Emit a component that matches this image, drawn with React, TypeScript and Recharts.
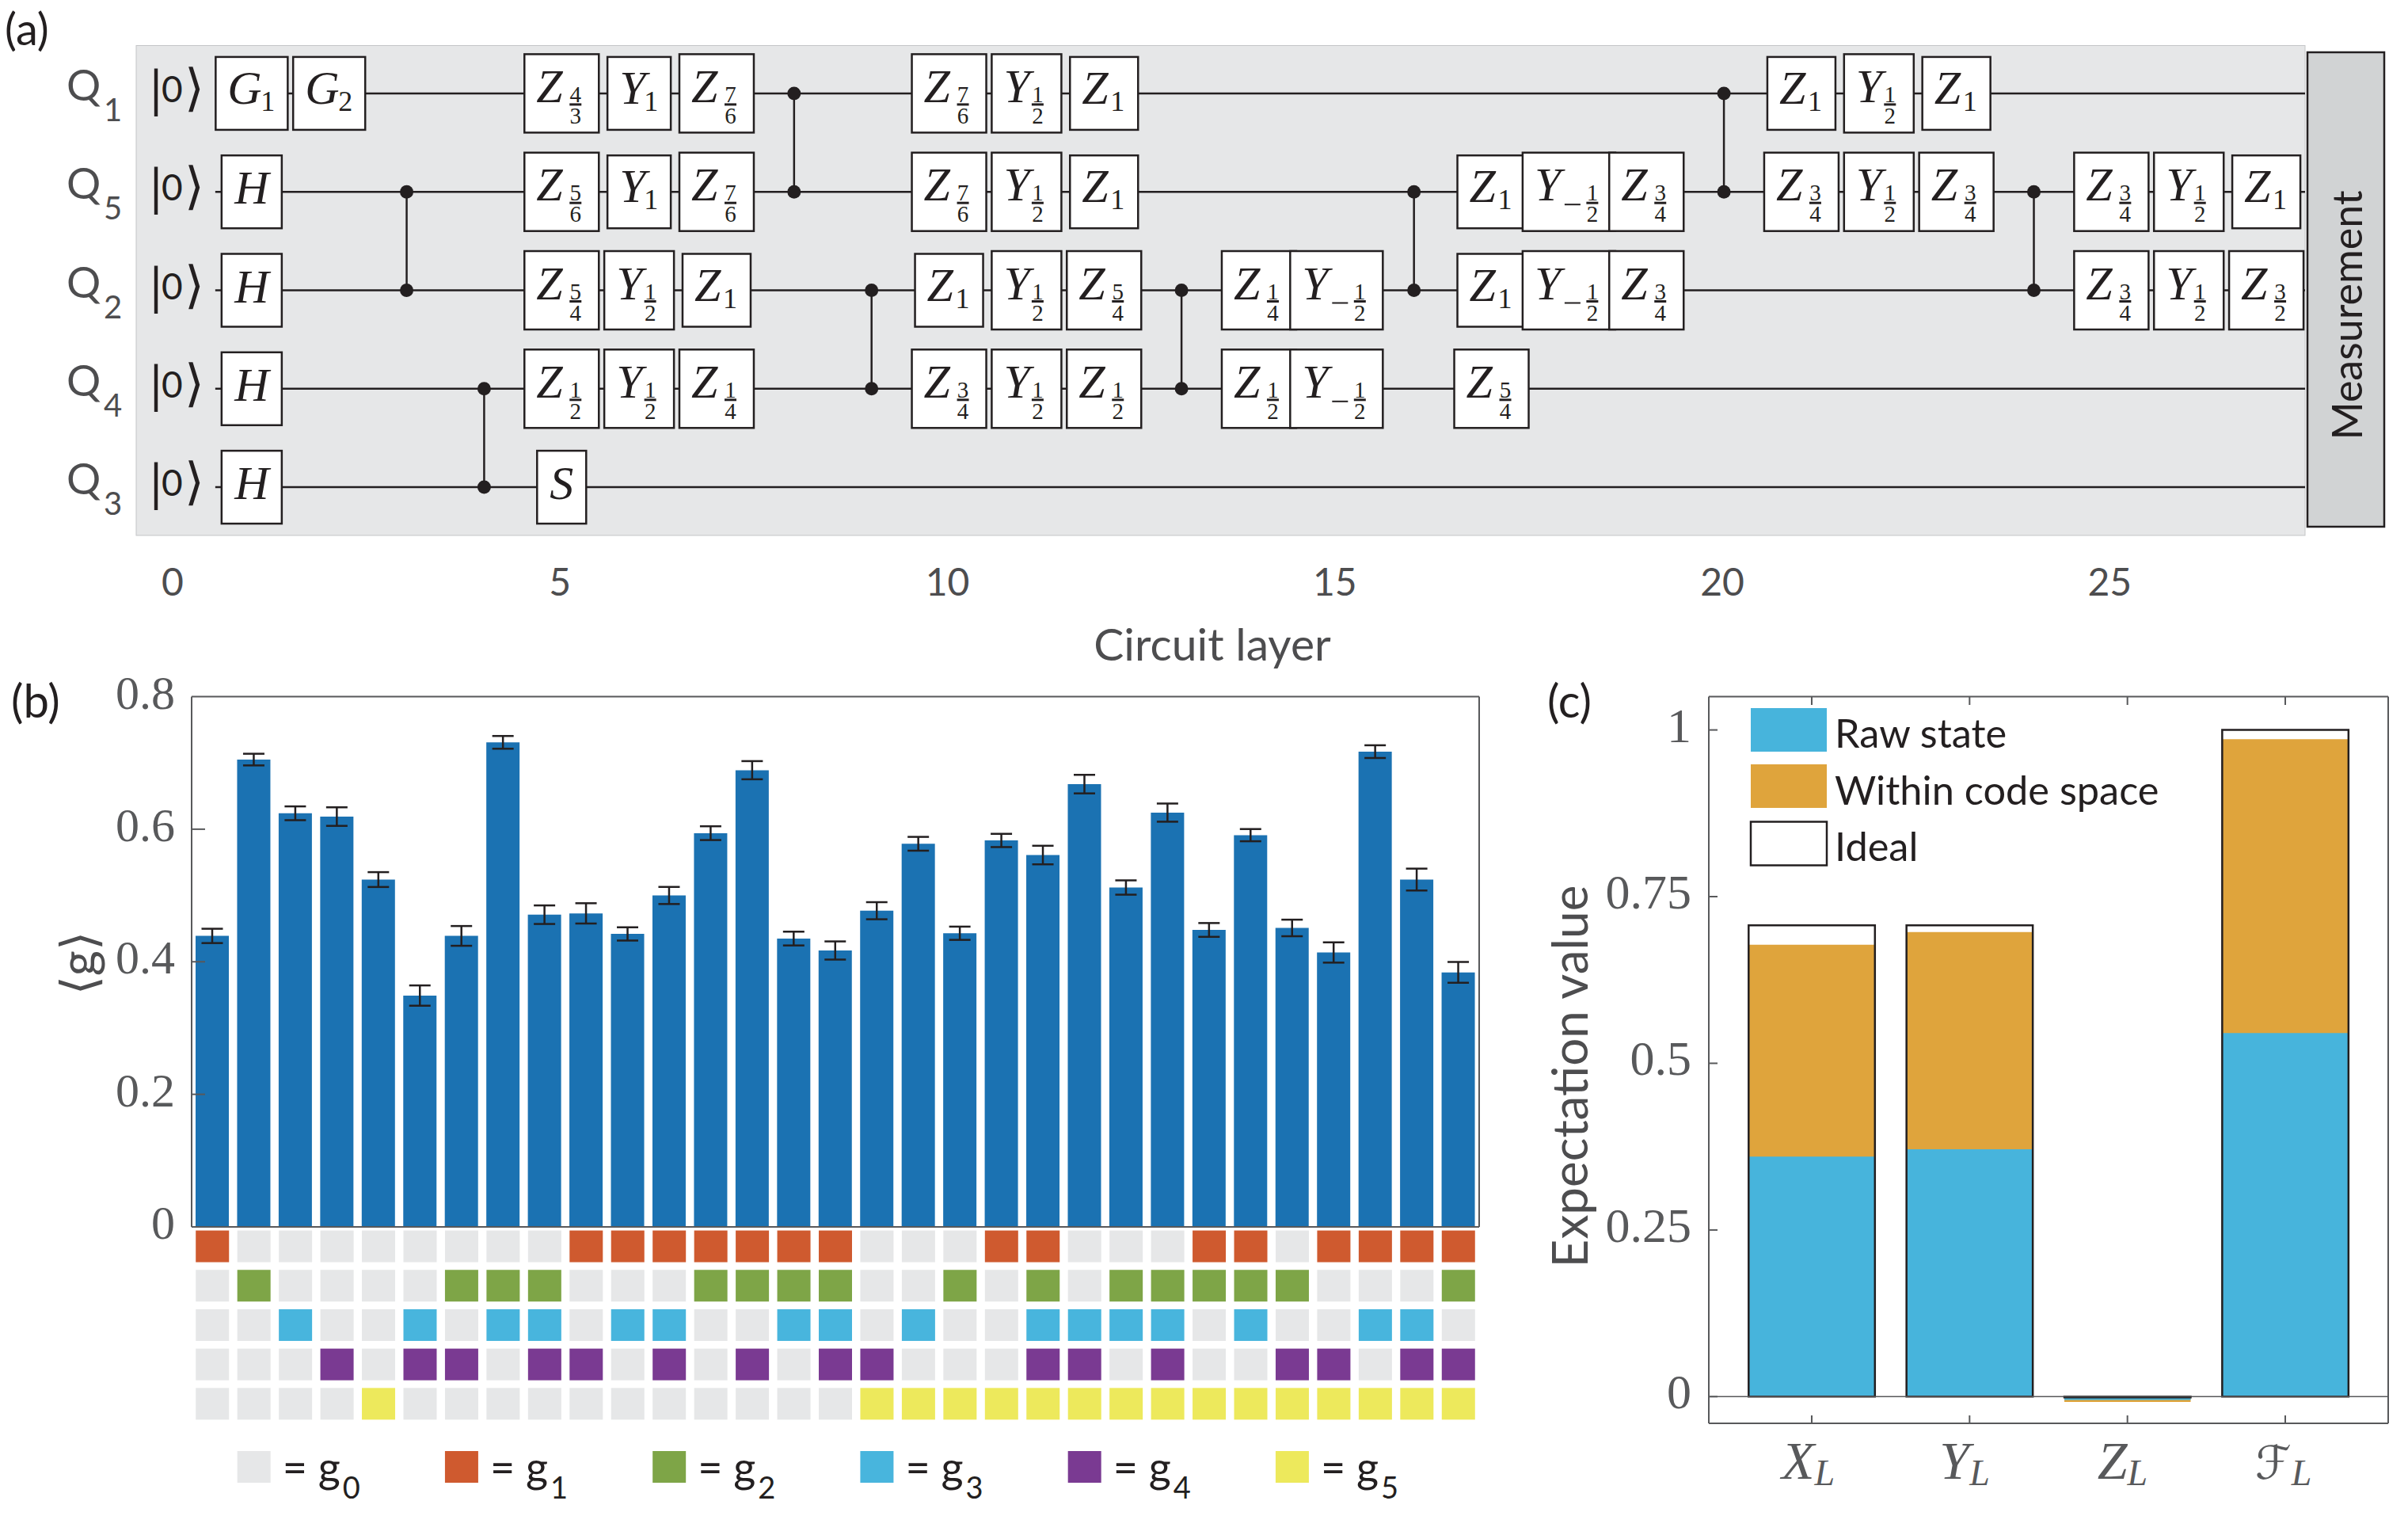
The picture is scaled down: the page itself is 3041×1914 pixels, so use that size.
import React from "react";
import {
  Bar,
  BarChart,
  ErrorBar,
  ReferenceLine,
  Scatter,
  ScatterChart,
  XAxis,
  YAxis,
} from "recharts";

const W = 3041;
const H = 1914;
const SANS = "Lato, 'Open Sans', sans-serif";
const SERIF = "'Liberation Serif', serif";
const INK = "#231f20";
const AXIS = "#58595b";

// panel (a)
const qubitLabels = ["1", "5", "2", "4", "3"];
const layerTicks = [0, 5, 10, 15, 20, 25];
const q1Gates = [[1, "G", "1"], [2, "G", "2"], [5, "Z", "4/3"], [6, "Y", "1"], [7, "Z", "7/6"], [10, "Z", "7/6"], [11, "Y", "1/2"], [12, "Z", "1"], [21, "Z", "1"], [22, "Y", "1/2"], [23, "Z", "1"]];
const q5Gates = [[1, "H", ""], [5, "Z", "5/6"], [6, "Y", "1"], [7, "Z", "7/6"], [10, "Z", "7/6"], [11, "Y", "1/2"], [12, "Z", "1"], [17, "Z", "1"], [18, "Y", "-1/2"], [19, "Z", "3/4"], [21, "Z", "3/4"], [22, "Y", "1/2"], [23, "Z", "3/4"], [25, "Z", "3/4"], [26, "Y", "1/2"], [27, "Z", "1"]];
const q2Gates = [[1, "H", ""], [5, "Z", "5/4"], [6, "Y", "1/2"], [7, "Z", "1"], [10, "Z", "1"], [11, "Y", "1/2"], [12, "Z", "5/4"], [14, "Z", "1/4"], [15, "Y", "-1/2"], [17, "Z", "1"], [18, "Y", "-1/2"], [19, "Z", "3/4"], [25, "Z", "3/4"], [26, "Y", "1/2"], [27, "Z", "3/2"]];
const q4Gates = [[1, "H", ""], [5, "Z", "1/2"], [6, "Y", "1/2"], [7, "Z", "1/4"], [10, "Z", "3/4"], [11, "Y", "1/2"], [12, "Z", "1/2"], [14, "Z", "1/2"], [15, "Y", "-1/2"], [17, "Z", "5/4"]];
const q3Gates = [[1, "H", ""], [5, "S", ""]];
const czPairs = [[3, 1, 2], [4, 3, 4], [8, 0, 1], [9, 2, 3], [13, 2, 3], [16, 1, 2], [20, 0, 1], [24, 1, 2]];

// panel (b)
const gValues = [0.439, 0.705, 0.624, 0.619, 0.524, 0.349, 0.439, 0.731, 0.471, 0.473, 0.442, 0.5, 0.594, 0.689, 0.435, 0.417, 0.477, 0.578, 0.443, 0.583, 0.561, 0.668, 0.512, 0.625, 0.448, 0.591, 0.451, 0.414, 0.717, 0.524, 0.384];
const gErrors = [0.0108, 0.0088, 0.0104, 0.014, 0.0112, 0.0153, 0.0149, 0.0096, 0.014, 0.0153, 0.01, 0.0129, 0.0104, 0.0137, 0.0104, 0.0137, 0.0129, 0.0104, 0.01, 0.01, 0.014, 0.014, 0.0108, 0.0137, 0.0104, 0.0092, 0.0125, 0.0153, 0.0096, 0.0165, 0.0157];
const g1Cols = [1, 10, 11, 12, 13, 14, 15, 16, 20, 21, 25, 26, 28, 29, 30, 31];
const g2Cols = [2, 7, 8, 9, 13, 14, 15, 16, 19, 21, 23, 24, 25, 26, 27, 31];
const g3Cols = [3, 6, 8, 9, 11, 12, 15, 16, 18, 21, 22, 23, 24, 26, 29, 30];
const g4Cols = [4, 6, 7, 9, 10, 12, 14, 16, 17, 21, 22, 24, 27, 28, 30, 31];
const g5Cols = [5, 17, 18, 19, 20, 21, 22, 23, 24, 25, 26, 27, 28, 29, 30, 31];
const gColors = ["#e6e7e8", "#cf5a2f", "#7ea547", "#48b5dd", "#7a3a92", "#ede95c"];
const gTicks = [0, 0.2, 0.4, 0.6, 0.8];
const legendCols = [2, 7, 12, 17, 22, 27];

// panel (c)
const logicalNames = ["X", "Y", "Z", "ℱ"];
const rawState = [0.36, 0.371, -0.005, 0.5455];
const withinCode = [0.678, 0.697, -0.008, 0.986];
const idealValue = [0.707, 0.707, -0.001, 1];
const expTicks = [0, 0.25, 0.5, 0.75, 1];

const gTable = gValues.map((v, i) => ({ idx: i + 1, value: v, err: gErrors[i] }));
const gCells: { x: number; y: number; g: number }[] = [];
[g1Cols, g2Cols, g3Cols, g4Cols, g5Cols].forEach((cols, row) => {
  gValues.forEach((_, i) => {
    gCells.push({ x: i + 1, y: row, g: cols.includes(i + 1) ? row + 1 : 0 });
  });
});
const expTable = logicalNames.map((name, i) => ({
  name,
  raw: rawState[i],
  within: withinCode[i],
  ideal: idealValue[i],
}));
const toGates = (list: any[], y: number) =>
  list.map(([x, base, sub]) => ({ x, y, base, sub }));

function gateWidth(base: string, sub: string) {
  if (base === "H") return 76;
  if (base === "S") return 62;
  if (base === "G") return 91;
  if (sub.startsWith("-")) return 117;
  if (base === "Y") return sub.includes("/") ? 88 : 80;
  return sub.includes("/") ? 94 : 86;
}

function Frac({ x, cy, text }: { x: number; cy: number; text: string }) {
  const [n, d] = text.split("/");
  const style = { fontFamily: SERIF, fontSize: 29, fill: INK, textAnchor: "middle" as const };
  return (
    <g>
      <text x={x} y={cy + 11} style={style}>{n}</text>
      <line x1={x - 7.5} x2={x + 7.5} y1={cy + 14} y2={cy + 14} stroke={INK} strokeWidth={3} />
      <text x={x} y={cy + 38} style={style}>{d}</text>
    </g>
  );
}

function GateShape(props: any) {
  const { cx, cy, payload } = props;
  const { base, sub } = payload;
  const w = gateWidth(base, sub);
  const isFrac = sub.includes("/");
  const h = isFrac ? 99 : 92;
  const left = cx - w / 2;
  const label = { fontFamily: SERIF, fontStyle: "italic", fontSize: 60, fill: INK };
  let subNode = null;
  if (sub.startsWith("-")) {
    subNode = (
      <g>
        <line x1={left + 53} x2={left + 73} y1={cy + 16} y2={cy + 16} stroke={INK} strokeWidth={2} />
        <Frac x={left + 88} cy={cy} text={sub.slice(1)} />
      </g>
    );
  } else if (isFrac) {
    subNode = <Frac x={left + (base === "Y" ? 58 : 64.5)} cy={cy} text={sub} />;
  } else if (sub) {
    const sx = base === "G" ? 66 : base === "Y" ? 55 : 60;
    subNode = (
      <text x={left + sx} y={cy + 22} style={{ fontFamily: SERIF, fontSize: 36, fill: INK, textAnchor: "middle" }}>
        {sub}
      </text>
    );
  }
  return (
    <g>
      <rect x={left} y={cy - h / 2} width={w} height={h} fill="#fff" stroke={INK} strokeWidth={2.5} />
      {sub ? (
        <text x={left + 15} y={cy + (isFrac ? 11 : 13)} style={label}>{base}</text>
      ) : (
        <text x={cx} y={cy + 15} style={{ ...label, textAnchor: "middle" }}>{base}</text>
      )}
      {subNode}
    </g>
  );
}

const NoShape = () => <g />;
const CzDot = (props: any) => <circle cx={props.cx} cy={props.cy} r={8.5} fill={INK} />;

function QubitTick(props: any) {
  const { y, payload } = props;
  const cy = y;
  return (
    <g>
      <text x={84} y={cy + 9} style={{ fontFamily: SANS, fontSize: 54, fill: "#4d4d4f" }}>Q</text>
      <text x={131} y={cy + 35} style={{ fontFamily: SANS, fontSize: 40, fill: "#4d4d4f" }}>
        {qubitLabels[payload.value]}
      </text>
      <text style={{ fontFamily: SANS, fontSize: 46, fill: INK }}>
        <tspan x={189} y={cy + 18} style={{ fontSize: 64 }}>|</tspan>
        <tspan x={204} y={cy + 11}>0</tspan>
        <tspan x={233} y={cy + 15} style={{ fontFamily: "'DejaVu Sans'", fontSize: 64 }}>⟩</tspan>
      </text>
    </g>
  );
}

function LayerTick(props: any) {
  return (
    <text x={props.x - 2} y={752} style={{ fontFamily: SANS, fontSize: 48, fill: "#4d4d4f", textAnchor: "middle" }}>
      {props.payload.value}
    </text>
  );
}

function GLeftTick(props: any) {
  const { y, payload } = props;
  return (
    <g>
      {payload.value > 0 && payload.value < 0.8 && <line x1={242} x2={259} y1={y} y2={y} stroke={AXIS} strokeWidth={2} />}
      <text x={221} y={y + 15} style={{ fontFamily: SERIF, fontSize: 60, fill: AXIS, textAnchor: "end" }}>
        {payload.value}
      </text>
    </g>
  );
}

function GRightTick(props: any) {
  return <line x1={1851} x2={1868} y1={props.y} y2={props.y} stroke={AXIS} strokeWidth={2} />;
}

function CellShape(props: any) {
  return <rect x={props.cx - 21} y={props.cy - 20} width={42} height={40} fill={gColors[props.payload.g]} />;
}

function ExpLeftTick(props: any) {
  const { y, payload } = props;
  return (
    <g>
      <line x1={2158} x2={2169} y1={y} y2={y} stroke={AXIS} strokeWidth={2} />
      <text x={2136} y={y + 15} style={{ fontFamily: SERIF, fontSize: 62, fill: AXIS, textAnchor: "end" }}>
        {payload.value}
      </text>
    </g>
  );
}

function ExpRightTick(props: any) {
  return <line x1={3005} x2={3016} y1={props.y} y2={props.y} stroke={AXIS} strokeWidth={2} />;
}

function ExpBottomTick(props: any) {
  const { x, payload } = props;
  const script = payload.value === "ℱ";
  return (
    <g>
      <line x1={x} x2={x} y1={1787} y2={1797} stroke={AXIS} strokeWidth={2} />
      <text
        x={x - 38}
        y={1867}
        style={{
          fontFamily: script ? "'DejaVu Sans'" : SERIF,
          fontStyle: script ? "normal" : "italic",
          fontSize: script ? 58 : 68,
          fill: AXIS,
        }}
      >
        {payload.value}
        <tspan dy={8} style={{ fontFamily: SERIF, fontStyle: "italic", fontSize: 46 }}>L</tspan>
      </text>
    </g>
  );
}

function ExpTopTick(props: any) {
  return <line x1={props.x} x2={props.x} y1={880} y2={890} stroke={AXIS} strokeWidth={2} />;
}

const layer = { position: "absolute", left: 0, top: 0 } as const;

export default function App() {
  const gatesByWire = [q1Gates, q5Gates, q2Gates, q4Gates, q3Gates];
  const panelLabel = { fontFamily: SANS, fontSize: 56, fill: INK };
  const legendText = { fontFamily: SANS, fontSize: 50.5, fill: INK };

  return (
    <div style={{ position: "absolute", left: 0, top: 0, width: W, height: H, background: "#fff", overflow: "hidden" }}>
      <svg width={W} height={H} style={layer}>
        <rect x={172} y={57.5} width={2739} height={618.5} fill="#e6e7e8" stroke="#c4c5c7" strokeWidth={1} />
        <rect x={2914} y={66} width={97} height={599} fill="#d1d3d4" stroke={INK} strokeWidth={2.5} />
      </svg>

      {/* (a) circuit */}
      <div style={layer}>
        <ScatterChart width={W} height={H} margin={{ left: 171, top: 57.5, right: W - 2911, bottom: H - 677 }}>
          <XAxis type="number" dataKey="x" domain={[-0.4905, 27.5]} ticks={layerTicks} height={1} axisLine={false} tickLine={false} tickSize={0} tick={LayerTick} interval={0} />
          <YAxis type="number" dataKey="y" domain={[-0.486, 4.49]} reversed ticks={[0, 1, 2, 3, 4]} width={1} axisLine={false} tickLine={false} tickSize={0} tick={QubitTick} interval={0} />
          {qubitLabels.map((q, i) => (
            <Scatter
              key={q}
              data={[{ x: 0.53, y: i }, { x: 27.5, y: i }]}
              line={{ stroke: INK, strokeWidth: 2.5 }}
              shape={NoShape}
              isAnimationActive={false}
            />
          ))}
          {czPairs.map(([x, a, b]) => (
            <Scatter
              key={x}
              data={[{ x, y: a }, { x, y: b }]}
              line={{ stroke: INK, strokeWidth: 2.5 }}
              shape={CzDot}
              isAnimationActive={false}
            />
          ))}
          {gatesByWire.map((list, i) => (
            <Scatter key={i} data={toGates(list, i)} shape={GateShape} isAnimationActive={false} />
          ))}
        </ScatterChart>
      </div>

      {/* (b) bars */}
      <div style={layer}>
        <BarChart width={W} height={H} data={gTable} barSize={42} margin={{ left: 241, top: 878.5, right: W - 1869, bottom: H - 1550 }}>
          <XAxis xAxisId="bottom" dataKey="idx" tick={false} tickLine={false} height={1} stroke={AXIS} strokeWidth={2} />
          <XAxis xAxisId="top" orientation="top" dataKey="idx" tick={false} tickLine={false} height={1} stroke={AXIS} strokeWidth={2} />
          <YAxis yAxisId="left" domain={[0, 0.8]} ticks={gTicks} width={1} stroke={AXIS} strokeWidth={2} tickLine={false} tickSize={0} tick={GLeftTick} interval={0} />
          <YAxis yAxisId="right" orientation="right" domain={[0, 0.8]} ticks={gTicks} width={1} stroke={AXIS} strokeWidth={2} tickLine={false} tickSize={0} tick={GRightTick} interval={0} />
          <Bar xAxisId="bottom" yAxisId="left" dataKey="value" fill="#1b72b2" isAnimationActive={false}>
            <ErrorBar dataKey="err" width={13.5} stroke={INK} strokeWidth={2.5} isAnimationActive={false} />
          </Bar>
        </BarChart>
      </div>

      {/* (b) generator grid */}
      <div style={layer}>
        <ScatterChart width={W} height={H} margin={{ left: 242, top: 1548.7, right: W - 1868, bottom: H - 1797.2 }}>
          <XAxis type="number" dataKey="x" domain={[0.5, 31.5]} hide />
          <YAxis type="number" dataKey="y" domain={[-0.5, 4.5]} reversed hide />
          <Scatter data={gCells} shape={CellShape} isAnimationActive={false} />
        </ScatterChart>
      </div>

      {/* (c) expectation values */}
      <div style={layer}>
        <BarChart width={W} height={H} data={expTable} barSize={159.5} barGap={-159.5} margin={{ left: 2157, top: 878.5, right: W - 3017, bottom: H - 1798 }}>
          <XAxis xAxisId="bottom" dataKey="name" padding={{ left: 30.3, right: 30.3 }} height={1} stroke={AXIS} strokeWidth={2} tickLine={false} tickSize={0} tick={ExpBottomTick} interval={0} />
          <XAxis xAxisId="top" orientation="top" dataKey="name" padding={{ left: 30.3, right: 30.3 }} height={1} stroke={AXIS} strokeWidth={2} tickLine={false} tickSize={0} tick={ExpTopTick} interval={0} />
          <YAxis yAxisId="left" domain={[-0.04, 1.05]} ticks={expTicks} width={1} stroke={AXIS} strokeWidth={2} tickLine={false} tickSize={0} tick={ExpLeftTick} interval={0} />
          <YAxis yAxisId="right" orientation="right" domain={[-0.04, 1.05]} ticks={expTicks} width={1} stroke={AXIS} strokeWidth={2} tickLine={false} tickSize={0} tick={ExpRightTick} interval={0} />
          <ReferenceLine xAxisId="bottom" yAxisId="left" y={0} stroke={AXIS} strokeWidth={1.5} />
          <Bar xAxisId="bottom" yAxisId="left" dataKey="within" fill="#dfa43c" isAnimationActive={false} />
          <Bar xAxisId="bottom" yAxisId="left" dataKey="raw" fill="#47b4dc" isAnimationActive={false} />
          <Bar xAxisId="bottom" yAxisId="left" dataKey="ideal" fill="none" stroke={INK} strokeWidth={2.5} isAnimationActive={false} />
        </BarChart>
      </div>

      {/* text and legends */}
      <svg width={W} height={H} style={layer}>
        <text x={6} y={57} style={panelLabel}>(a)</text>
        <text x={14} y={906} style={{ ...panelLabel, fontSize: 58 }}>(b)</text>
        <text x={1954} y={906} style={{ ...panelLabel, fontSize: 58 }}>(c)</text>
        <text x={1531} y={834} style={{ fontFamily: SANS, fontSize: 57, fill: "#4d4d4f", textAnchor: "middle" }}>Circuit layer</text>
        <text transform="translate(2983 398) rotate(-90)" style={{ fontFamily: SANS, fontSize: 52, fill: INK, textAnchor: "middle" }}>Measurement</text>
        <text transform="translate(2005 1359) rotate(-90)" style={{ fontFamily: SANS, fontSize: 62, fill: "#4d4d4f", textAnchor: "middle" }}>Expectation value</text>
        <text transform="translate(121 1216) rotate(-90)" style={{ fontFamily: SANS, fontSize: 62, fill: "#4d4d4f", textAnchor: "middle" }}>
          <tspan style={{ fontFamily: "'DejaVu Sans'", fontSize: 62 }}>⟨</tspan>g<tspan style={{ fontFamily: "'DejaVu Sans'", fontSize: 62 }}>⟩</tspan>
        </text>

        {legendCols.map((col, i) => {
          const x = 242 + (col - 0.5) * 52.45 - 21;
          return (
            <g key={col}>
              <rect x={x} y={1832} width={42} height={40} fill={gColors[i]} />
              <text x={x + 57} y={1872} style={{ fontFamily: SANS, fontSize: 54, fill: INK }}>= g</text>
              <text x={x + 133} y={1892} style={{ fontFamily: SANS, fontSize: 38, fill: INK }}>{i}</text>
            </g>
          );
        })}

        <rect x={2211} y={894} width={96} height={55} fill="#47b4dc" />
        <text x={2317} y={944} style={legendText}>Raw state</text>
        <rect x={2211} y={965} width={96} height={55} fill="#dfa43c" />
        <text x={2317} y={1016} style={legendText}>Within code space</text>
        <rect x={2211} y={1037.5} width={96} height={55} fill="#fff" stroke={INK} strokeWidth={2.5} />
        <text x={2317} y={1087} style={legendText}>Ideal</text>
      </svg>
    </div>
  );
}
